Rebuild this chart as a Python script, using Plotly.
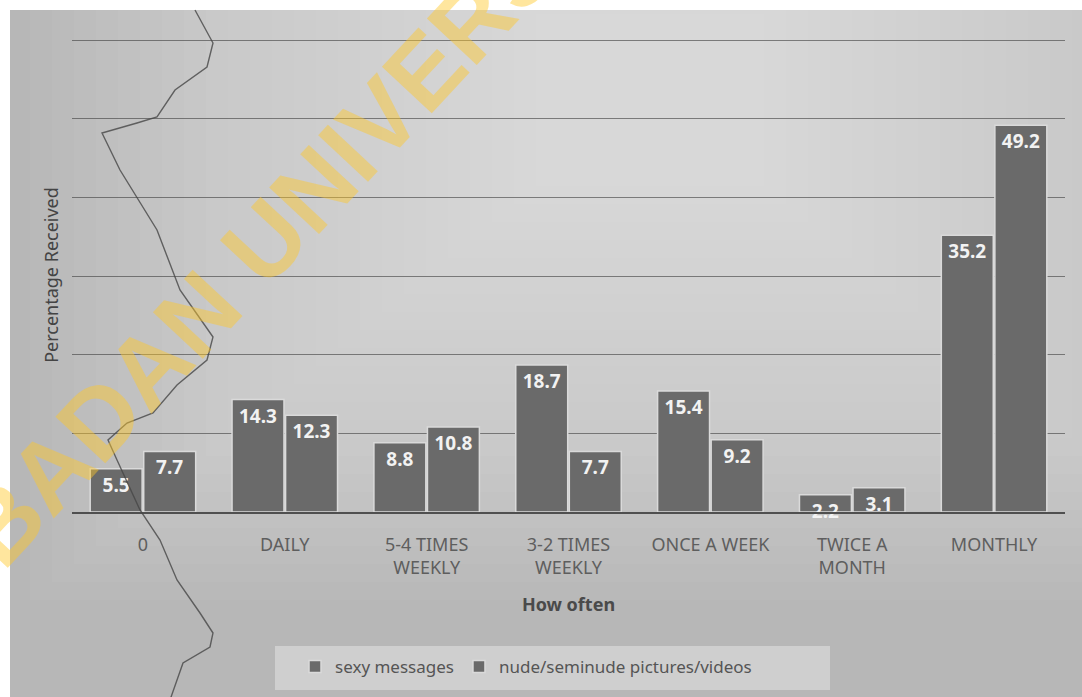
import plotly.graph_objects as go

categories = ["0", "DAILY", "5-4 TIMES<br>WEEKLY", "3-2 TIMES<br>WEEKLY",
              "ONCE A WEEK", "TWICE A<br>MONTH", "MONTHLY"]
sexy_messages = [5.5, 14.3, 8.8, 18.7, 15.4, 2.2, 35.2]
nude_pictures = [7.7, 12.3, 10.8, 7.7, 9.2, 3.1, 49.2]
series_names = ["sexy messages", "nude/seminude pictures/videos"]

W, H = 1082, 697
L, R, T, B = 72, 17, 38, 185
pw, ph = W - L - R, H - T - B

def px_x(v):
    return (v - L) / pw

def px_y(v):
    return (H - B - v) / ph

BAR = "#6a6a6a"
fig = go.Figure()
for name, vals in zip(series_names, [sexy_messages, nude_pictures]):
    fig.add_trace(go.Bar(
        x=categories, y=vals, name=name,
        marker=dict(color=BAR, line=dict(color="#dadada", width=1.5)),
        text=[f"{v:.1f}" for v in vals], textposition="inside",
        insidetextanchor="end", textangle=0, constraintext="none",
        textfont=dict(family="Noto Sans", size=19, color="#f2f2f2", weight="bold"),
        cliponaxis=False,
    ))

# scanned page background with a soft light spot near the top centre
shapes = [
    dict(type="rect", xref="paper", yref="paper", layer="below",
         x0=px_x(10), x1=px_x(W + 5), y0=px_y(H + 5), y1=px_y(10),
         fillcolor="#b7b7b7", line=dict(width=0)),
]
cx, cy = 650, 100
n = 24
for i in range(n):
    hw = 620 - i * 22
    hh = 500 - i * 18
    shapes.append(dict(
        type="rect", xref="paper", yref="paper", layer="below",
        x0=px_x(max(10, cx - hw)), x1=px_x(min(W + 5, cx + hw)),
        y0=px_y(min(H + 5, cy + hh)), y1=px_y(max(10, cy - hh)),
        fillcolor="rgba(255,255,255,0.037)", line=dict(width=0)))
# legend box
shapes.append(dict(type="rect", xref="paper", yref="paper", layer="below",
                   x0=px_x(275), x1=px_x(830), y0=px_y(690), y1=px_y(646),
                   fillcolor="rgba(215,215,215,0.75)", line=dict(width=0)))
# torn page edge visible in the scan
edge = [(195, 10), (213, 43), (207, 67), (175, 90), (157, 117), (137, 123),
        (102, 133), (120, 170), (157, 230), (180, 290), (213, 337), (207, 360),
        (177, 385), (153, 413), (127, 423), (108, 440), (117, 460), (140, 510),
        (160, 540), (177, 580), (200, 613), (213, 633), (210, 647), (183, 663),
        (170, 700)]
path = "M " + " L ".join(f"{px_x(a):.5f},{px_y(b):.5f}" for a, b in edge)
shapes.append(dict(type="path", xref="paper", yref="paper", layer="above",
                   path=path, line=dict(color="rgba(70,70,70,0.8)", width=1.4)))

fig.update_layout(
    width=W, height=H,
    margin=dict(l=L, r=R, t=T, b=B, autoexpand=False),
    paper_bgcolor="white", plot_bgcolor="rgba(0,0,0,0)",
    barmode="group", bargap=0.245, bargroupgap=0.03,
    font=dict(family="Noto Sans", color="#5a5a5a"),
    showlegend=True,
    legend=dict(orientation="h", xref="container", yref="container",
                x=526 / W, xanchor="center", y=(H - 667) / H, yanchor="middle",
                bgcolor="rgba(0,0,0,0)", font=dict(size=17, color="#555555"),
                traceorder="normal"),
    xaxis=dict(showgrid=False, showline=True, linecolor="#4f4f4f", linewidth=2,
               ticks="", automargin=False, ticklabelstandoff=15,
               tickfont=dict(size=18, color="#5e5e5e"),
               title=dict(text="How often", standoff=20,
                          font=dict(size=18, color="#4a4a4a", weight="bold"))),
    yaxis=dict(range=[0, 60.3], dtick=10, showgrid=True,
               gridcolor="rgba(60,60,60,0.6)",
               gridwidth=1, showticklabels=False, zeroline=False, automargin=False,
               title=dict(text="Percentage Received", standoff=7,
                          font=dict(size=18, color="#444444"))),
    shapes=shapes,
    annotations=[
        dict(text="IBADAN UNIVERSITY", xref="paper", yref="paper",
             x=px_x(302), y=px_y(201), xanchor="center", yanchor="middle",
             showarrow=False, textangle=-47,
             font=dict(family="Liberation Sans", size=99, weight="bold",
                       color="rgba(255,200,40,0.45)")),
    ],
)

fig.write_html("out.html", config={"displayModeBar": False},
               post_script="document.body.style.margin='0';document.body.style.overflow='hidden';")
